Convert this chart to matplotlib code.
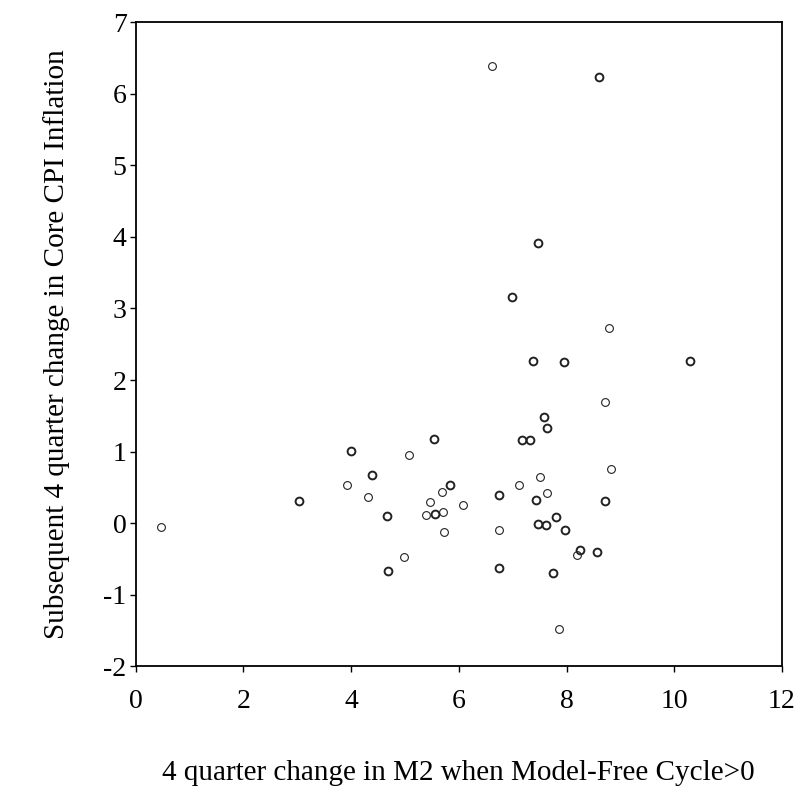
import matplotlib
matplotlib.use("Agg")
import matplotlib.pyplot as plt

plt.rcParams['font.family'] = ['Liberation Serif', 'DejaVu Serif']
plt.rcParams['axes.unicode_minus'] = False

# growth of M2 (x) vs subsequent core CPI change (y); n = observations at the same spot
m2 = [0.47, 3.04, 4.00, 3.93, 4.38, 4.32, 4.67, 4.69, 4.98, 5.07,
      5.54, 5.84, 5.68, 5.47, 5.40, 5.56, 5.71, 5.72, 6.08,
      8.71, 7.58, 7.63, 7.17, 7.32, 8.83, 7.51, 7.12, 6.75, 7.43,
      7.64, 8.72, 7.80, 7.47, 7.61, 7.98, 6.74, 8.25, 8.19, 8.57,
      6.74, 7.74, 7.86,
      6.62, 8.61, 7.47, 6.98, 8.79, 7.37, 7.96, 10.29]
cpi = [-0.05, 0.31, 1.01, 0.53, 0.67, 0.36, 0.10, -0.67, -0.47, 0.95,
       1.17, 0.53, 0.43, 0.29, 0.12, 0.13, 0.15, -0.13, 0.26,
       1.69, 1.48, 1.33, 1.16, 1.16, 0.75, 0.65, 0.54, 0.39, 0.33,
       0.42, 0.31, 0.08, -0.01, -0.02, -0.09, -0.09, -0.37, -0.45, -0.41,
       -0.63, -0.69, -1.48,
       6.39, 6.24, 3.92, 3.16, 2.73, 2.26, 2.25, 2.27]
n = [1, 2, 2, 1, 2, 1, 2, 2, 1, 1,
     2, 2, 1, 1, 1, 2, 1, 1, 1,
     1, 2, 2, 2, 2, 1, 1, 1, 2, 2,
     1, 2, 2, 2, 2, 2, 1, 2, 1, 2,
     2, 2, 1,
     1, 2, 2, 2, 1, 2, 2, 2]

fig = plt.figure(figsize=(8.07, 7.96), dpi=100)
ax = fig.add_axes([0.168, 0.163, 0.801, 0.809])

for k in (1, 2):
    xs = [a for a, c in zip(m2, n) if c == k]
    ys = [b for b, c in zip(cpi, n) if c == k]
    ax.plot(xs, ys, 'o', ms=5.6, mfc='none', mec='#222222',
            mew=0.8 if k == 1 else 1.4, linestyle='none')

ax.set_xlim(0, 12)
ax.set_ylim(-2, 7)
ax.set_xticks(range(0, 13, 2))
ax.set_yticks(range(-2, 8))
ax.tick_params(direction='out', length=4.5, width=1, labelsize=20,
               top=False, right=False)
ax.tick_params(axis='x', pad=12)
ax.tick_params(axis='y', pad=2)
for s in ax.spines.values():
    s.set_linewidth(1.3)

ax.set_xlabel('4 quarter change in M2 when Model-Free Cycle>0', fontsize=21, labelpad=33)
ax.set_ylabel('Subsequent 4 quarter change in Core CPI Inflation', fontsize=21, labelpad=24)

fig.savefig('out.png', dpi=100)
